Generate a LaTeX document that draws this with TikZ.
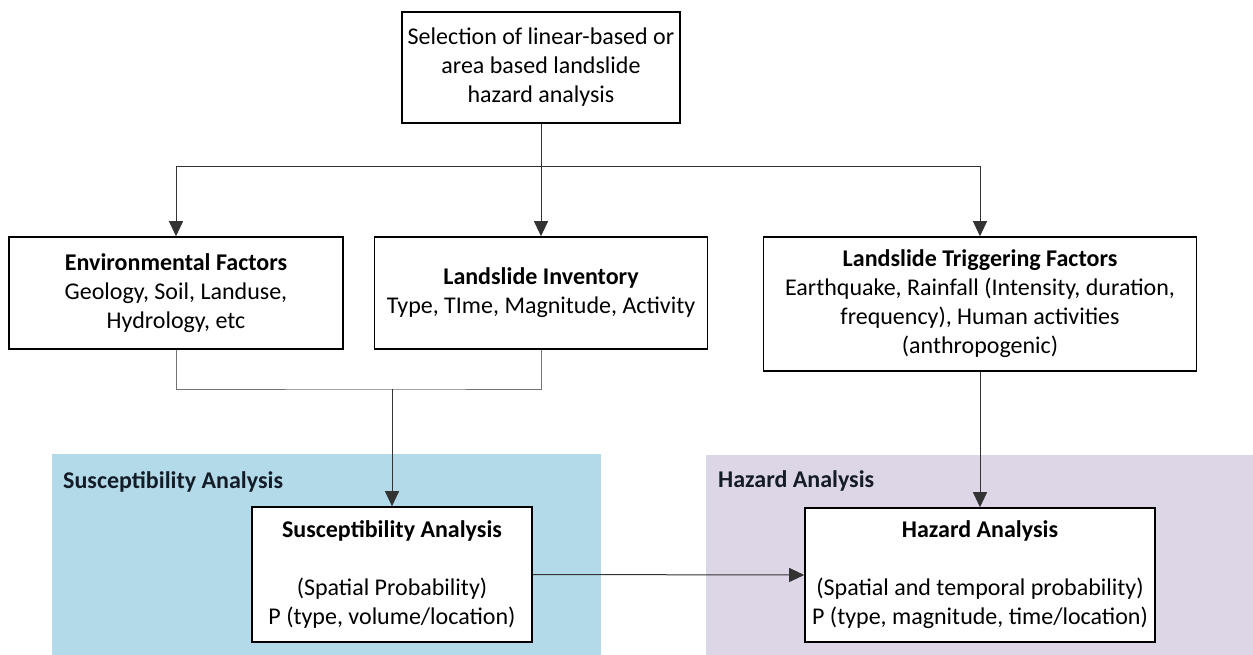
\documentclass[tikz,border=0pt]{standalone}
\usepackage{fontspec}
\setmainfont{Carlito}
\usetikzlibrary{arrows.meta}
\definecolor{suscbg}{RGB}{178,218,232}
\definecolor{hazbg}{RGB}{221,214,231}
\definecolor{labcol}{RGB}{20,28,40}
\tikzset{
  box/.style={draw=black, line width=1.6pt, fill=white, inner sep=0pt, align=center,
              font=\fontsize{24}{29}\selectfont},
  conn/.style={draw=black!80, line width=1pt},
  arr/.style={conn, -{Triangle[width=14pt,length=15pt]}},
  brk/.style={draw=black!55, line width=1pt},
  grouplab/.style={anchor=west, inner sep=0pt, text=labcol, font=\fontsize{24}{29}\selectfont\bfseries},
}
\begin{document}
\begin{tikzpicture}[x=1pt,y=-1pt]
\fill[white] (0,0) rectangle (1253,655);
\useasboundingbox (0,0) rectangle (1253,655);
% group backgrounds
\fill[suscbg] (52,454) rectangle (601,655);
\fill[hazbg] (706,455) rectangle (1253,655);
\node[grouplab] (susclab) at (63,482) {Susceptibility Analysis};
\node[grouplab] (hazlab) at (718,481) {Hazard Analysis};
% boxes
\node[box, minimum width=278pt, minimum height=111pt] (top) at (541,67.5)
  {Selection of linear-based or\\area based landslide\\hazard analysis};
\node[box, minimum width=334pt, minimum height=112pt] (ef) at (176,293)
  {\textbf{Environmental Factors}\\Geology, Soil, Landuse,\\Hydrology, etc};
\node[box, minimum width=333pt, minimum height=112pt] (li) at (541,293)
  {\textbf{Landslide Inventory}\\Type, TIme, Magnitude, Activity};
\node[box, minimum width=433pt, minimum height=134pt] (ltf) at (980,304)
  {\textbf{Landslide Triggering Factors}\\Earthquake, Rainfall (Intensity, duration,\\frequency), Human activities\\(anthropogenic)};
\node[box, minimum width=280pt, minimum height=135pt] (susc) at (392,574.5)
  {\textbf{Susceptibility Analysis}\\[29pt](Spatial Probability)\\P (type, volume/location)};
\node[box, minimum width=350pt, minimum height=134pt] (haz) at (980,575)
  {\textbf{Hazard Analysis}\\[29pt](Spatial and temporal probability)\\P (type, magnitude, time/location)};
% connectors
\coordinate (hj) at (541,167);
\coordinate (bj) at (392,389);
\draw[conn] (top.south) -- (hj);
\draw[arr] (hj) -| (ef.north);
\draw[arr] (hj) -| (ltf.north);
\draw[arr] (hj) -- (li.north);
\draw[brk] (ef.south) |- (bj) -| (li.south);
\draw[arr] (bj) -- (susc.north);
\draw[arr] (ltf.south) -- (haz.north);
\draw[arr] (susc.east) -- (haz.west);
\end{tikzpicture}
\end{document}
